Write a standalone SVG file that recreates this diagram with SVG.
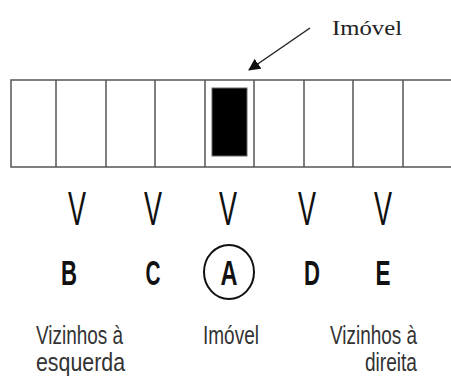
<svg xmlns="http://www.w3.org/2000/svg" width="451" height="377" viewBox="0 0 451 377">
<style>
.cell{fill:none;stroke:#555;stroke-width:1.5}
.v{font-family:"Liberation Sans",Arial,sans-serif;font-size:48px;fill:#111;text-anchor:middle}
.l{font-family:"Liberation Sans",Arial,sans-serif;font-size:35px;font-weight:bold;fill:#111;text-anchor:middle}
.t{font-family:"Liberation Sans",Arial,sans-serif;font-size:26px;fill:#333}
.s{font-family:"Liberation Serif","Times New Roman",serif;font-size:21px;fill:#222}
</style>
<defs>
<marker id="ah" markerWidth="12" markerHeight="12" refX="11" refY="6" orient="auto" markerUnits="userSpaceOnUse"><path d="M0,0 L12,6 L0,12 z" fill="#111"/></marker>
</defs>
<rect width="451" height="377" fill="#fff"/>
<g id="strip">
<rect class="cell" x="11" y="80" width="445" height="87"/>
<path class="cell" d="M56,80V167M106,80V167M155,80V167M205,80V167M254,80V167M304,80V167M353,80V167M403,80V167"/>
<rect x="212" y="88" width="35" height="68" fill="#000" stroke="#666" stroke-width="1"/>
</g>
<g id="connectors">
<line x1="310" y1="28" x2="249" y2="70" stroke="#222" stroke-width="1.5" marker-end="url(#ah)"/>
</g>
<g id="label-top"><text class="s" x="332" y="35" textLength="70" lengthAdjust="spacingAndGlyphs">Imóvel</text></g>
<g id="vs">
<text class="v" x="77" y="225" textLength="18" lengthAdjust="spacingAndGlyphs">V</text>
<text class="v" x="153" y="225" textLength="18" lengthAdjust="spacingAndGlyphs">V</text>
<text class="v" x="228" y="225" textLength="18" lengthAdjust="spacingAndGlyphs">V</text>
<text class="v" x="307" y="225" textLength="18" lengthAdjust="spacingAndGlyphs">V</text>
<text class="v" x="383" y="225" textLength="18" lengthAdjust="spacingAndGlyphs">V</text>
</g>
<g id="letters">
<text class="l" x="69" y="285" textLength="16" lengthAdjust="spacingAndGlyphs">B</text>
<text class="l" x="153" y="285" textLength="15" lengthAdjust="spacingAndGlyphs">C</text>
<text class="l" x="229" y="285" textLength="17" lengthAdjust="spacingAndGlyphs">A</text>
<text class="l" x="312" y="285" textLength="16" lengthAdjust="spacingAndGlyphs">D</text>
<text class="l" x="383" y="285" textLength="15" lengthAdjust="spacingAndGlyphs">E</text>
<ellipse cx="229" cy="272" rx="25" ry="27" fill="none" stroke="#111" stroke-width="2"/>
</g>
<g id="captions">
<text class="t" x="36" y="344" textLength="87" lengthAdjust="spacingAndGlyphs">Vizinhos à</text>
<text class="t" x="36" y="371" textLength="89" lengthAdjust="spacingAndGlyphs">esquerda</text>
<text class="t" x="203" y="344" textLength="56" lengthAdjust="spacingAndGlyphs">Imóvel</text>
<text class="t" x="330" y="344" textLength="87" lengthAdjust="spacingAndGlyphs">Vizinhos à</text>
<text class="t" x="365" y="371" textLength="52" lengthAdjust="spacingAndGlyphs">direita</text>
</g>
</svg>
